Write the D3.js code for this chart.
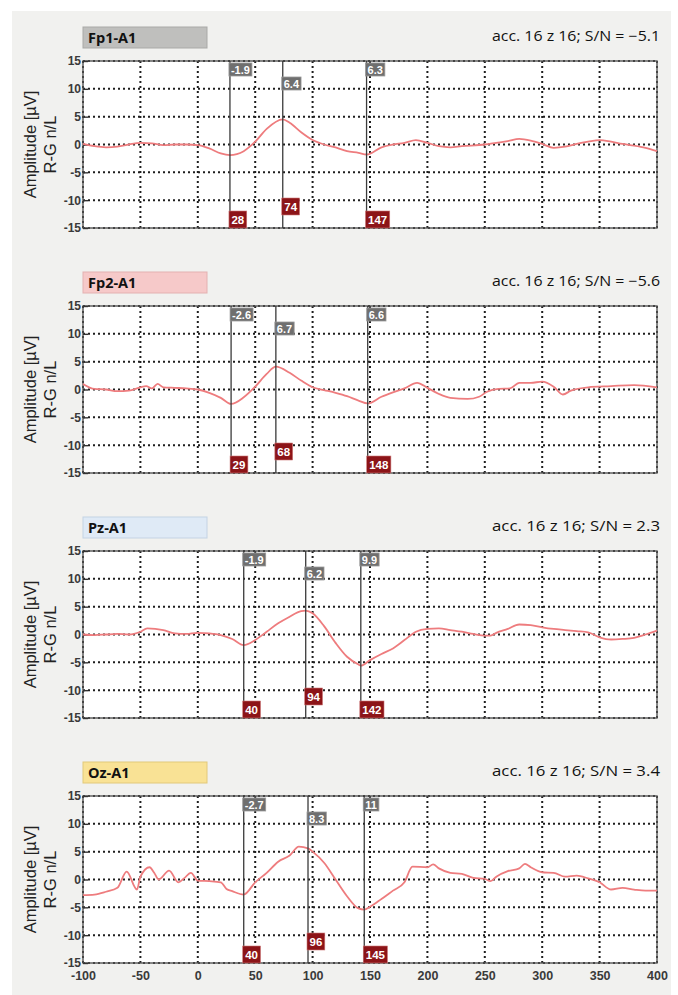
<!DOCTYPE html>
<html><head><meta charset="utf-8">
<script src="https://cdn.jsdelivr.net/npm/d3@7/dist/d3.min.js"></script>
<style>body{margin:0;background:#fff}</style>
</head><body><svg id="c" width="678" height="995"></svg>
<script>
// ---------- data ----------
const channelNames = ["Fp1-A1", "Fp2-A1", "Pz-A1", "Oz-A1"];
const snValues = ["−5.1", "−5.6", "2.3", "3.4"];
const xTicks = [-100, -50, 0, 50, 100, 150, 200, 250, 300, 350, 400];
const yTicks = [15, 10, 5, 0, -5, -10, -15];

const fp1T = [-100,-90,-80,-70,-60,-50,-40,-30,-20,-10,0,10,20,28,40,50,60,74,80,90,100,110,120,130,140,147,160,170,180,190,200,210,220,230,250,260,270,280,290,300,310,320,330,340,350,360,370,380,390,400];
const fp1V = [0.1,-0.3,-0.5,-0.4,0,0.3,0.2,-0.1,0,0,-0.1,-0.7,-1.6,-1.9,-1.2,0.5,2.8,4.5,3.9,2.2,0.8,0,-0.5,-1.2,-1.5,-1.8,-0.5,0,0.3,0.8,0.3,-0.3,-0.5,-0.3,0,0.3,0.6,1.0,0.7,0.1,-0.6,-0.4,0.1,0.5,0.8,0.5,0.1,-0.2,-0.6,-1.2];
const fp1Lat = ["28", "74", "147"];
const fp1Amp = ["-1.9", "6.4", "6.3"];

const fp2T = [-100,-90,-80,-70,-60,-50,-45,-40,-35,-30,-20,-10,0,10,20,29,40,50,60,68,80,90,100,110,120,130,140,148,160,170,180,191,200,210,220,235,245,252,262,272,280,290,300,310,318,325,340,360,380,400];
const fp2V = [1.0,0.1,0,-0.3,-0.2,0.4,0.6,0.2,1.0,0.4,0.3,0.2,0,-0.6,-1.5,-2.6,-1.4,0.5,2.8,4.1,3.0,1.6,0.4,-0.1,-0.6,-1.2,-2.0,-2.5,-1.3,-0.5,0.2,1.2,0.3,-0.8,-1.5,-1.7,-1.3,-0.4,0.1,0.2,1.2,1.2,1.4,0.5,-0.9,-0.2,0.4,0.6,0.8,0.4];
const fp2Lat = ["29", "68", "148"];
const fp2Amp = ["-2.6", "6.7", "6.6"];

const pzT = [-100,-90,-80,-70,-60,-50,-44,-30,-20,-10,0,10,20,30,40,50,60,70,80,90,94,100,110,120,130,140,142,150,160,170,180,190,200,210,220,230,240,250,255,260,270,280,290,300,310,320,330,340,350,360,370,380,390,400];
const pzV = [0,-0.1,0,0.1,0,0.5,1.1,0.8,0.2,0.1,0.3,0.2,-0.1,-0.8,-1.9,-1.0,0.5,2.0,3.2,4.2,4.3,3.8,1.5,-1.5,-4.0,-5.4,-5.6,-4.6,-3.5,-2.5,-1.0,0.5,1.0,1.1,0.8,0.5,0.1,-0.2,-0.2,0.3,1.0,1.8,1.7,1.3,1.0,0.8,0.6,0.4,-0.5,-0.9,-0.8,-0.6,0,0.7];
const pzLat = ["40", "94", "142"];
const pzAmp = ["-1.9", "6.2", "9.9"];

const ozT = [-100,-90,-80,-70,-62,-53,-50,-42,-38,-34,-25,-17,-12,-6,0,10,20,25,30,40,50,60,70,80,88,96,100,110,120,130,140,145,150,160,170,180,187,200,205,210,220,230,240,250,255,260,270,280,285,290,300,310,320,330,340,350,360,370,380,390,400];
const ozV = [-2.8,-2.7,-2.2,-1.5,1.4,-1.8,0.5,2.2,1.2,0,1.6,-0.5,0.2,1.2,-0.2,-0.3,-0.5,-1.7,-2.1,-2.7,-0.5,1.2,3.2,4.3,5.9,5.6,5.0,3.0,0,-3.0,-5.2,-5.4,-4.9,-3.5,-2.0,-0.5,2.3,2.2,2.7,2.0,1.2,1.0,0.3,0.1,-0.3,0.5,1.5,2.0,2.8,2.2,1.3,1.2,0.5,0.7,0.2,-0.5,-1.8,-1.5,-1.8,-2.0,-2.0];
const ozLat = ["40", "96", "145"];
const ozAmp = ["-2.7", "8.3", "11"];

const seriesT = [fp1T, fp2T, pzT, ozT];
const seriesV = [fp1V, fp2V, pzV, ozV];
const latLabels = [fp1Lat, fp2Lat, pzLat, ozLat];
const ampLabels = [fp1Amp, fp2Amp, pzAmp, ozAmp];

// ---------- styles ----------
const headerFill = ["#bfbfbd", "#f6c9c9", "#dfeaf6", "#f9e295"];
const headerStroke = ["#a9a9a7", "#e4b1b1", "#c4d3e4", "#e2c97a"];

const svg = d3.select("#c");
svg.append("rect").attr("x", 12).attr("y", 11).attr("width", 659).attr("height", 984).attr("fill", "#f1f1ef");

const x = d3.scaleLinear().domain([-100, 400]).range([83, 657]);
const H = 167;

channelNames.forEach((name, i) => {
  const top = 61 + i * 245;
  const y = d3.scaleLinear().domain([-15, 15]).range([top + H, top]);
  const g = svg.append("g");

  // header
  g.append("rect").attr("x", 83).attr("y", top - 34).attr("width", 124).attr("height", 21)
    .attr("fill", headerFill[i]).attr("stroke", headerStroke[i]).attr("stroke-width", 1);
  g.append("text").attr("x", 88).attr("y", top - 18).text(name)
    .attr("font-family", "Open Sans").attr("font-weight", "bold").attr("font-size", 14.5).attr("fill", "#111");
  g.append("text").attr("x", 660).attr("y", top - 20).attr("text-anchor", "end")
    .text("acc. 16 z 16; S/N = " + snValues[i])
    .attr("font-family", "Open Sans").attr("font-size", 14).attr("fill", "#111")
    .attr("textLength", 168).attr("lengthAdjust", "spacingAndGlyphs");

  // plot background
  g.append("rect").attr("x", 83).attr("y", top).attr("width", 574).attr("height", H).attr("fill", "#fff");

  // grid
  const gs = "#1e1e1e", gw = 2, gd = "2,3";
  g.append("g").selectAll("line").data(xTicks).join("line")
    .attr("x1", d => x(d)).attr("x2", d => x(d)).attr("y1", top).attr("y2", top + H)
    .attr("stroke", gs).attr("stroke-width", gw).attr("stroke-dasharray", gd);
  g.append("g").selectAll("line").data(yTicks).join("line")
    .attr("x1", 83).attr("x2", 657).attr("y1", d => y(d)).attr("y2", d => y(d))
    .attr("stroke", gs).attr("stroke-width", gw).attr("stroke-dasharray", gd);

  // frame
  g.append("rect").attr("x", 83).attr("y", top).attr("width", 574).attr("height", H)
    .attr("fill", "none").attr("stroke", "#555").attr("stroke-width", 1.4);

  // y axis
  const ya = d3.axisLeft(y).tickValues(yTicks).tickSize(4).tickFormat(d3.format("d"));
  const yg = g.append("g").attr("transform", "translate(83,0)").call(ya);
  yg.select(".domain").remove();
  yg.selectAll("line").attr("stroke", "#333").attr("stroke-width", 1.4).attr("x2", 5);
  yg.selectAll("text").attr("x", -2).attr("font-family", "Liberation Sans").attr("font-weight", "bold")
    .attr("font-size", 12).attr("fill", "#3a3a3a").text(d => d < 0 ? "-" + Math.abs(d) : d);

  // y title
  const cy = top + H / 2;
  g.append("text").attr("transform", `translate(36,${cy}) rotate(-90)`).attr("text-anchor", "middle")
    .text("Amplitude [µV]").attr("font-family", "Liberation Sans").attr("font-size", 16.5).attr("fill", "#222");
  g.append("text").attr("transform", `translate(56,${cy}) rotate(-90)`).attr("text-anchor", "middle")
    .text("R-G n/L").attr("font-family", "Liberation Sans").attr("font-size", 16.5).attr("fill", "#222");

  // trace
  const pts = seriesT[i].map((t, k) => [t, seriesV[i][k]]);
  g.append("path").datum(pts)
    .attr("d", d3.line().x(d => x(d[0])).y(d => y(d[1])).curve(d3.curveMonotoneX))
    .attr("fill", "none").attr("stroke", "#ee7c7e").attr("stroke-width", 1.8);

  // markers
  latLabels[i].forEach((lat, k) => {
    const mx = x(+lat);
    g.append("line").attr("x1", mx).attr("x2", mx).attr("y1", top).attr("y2", top + H)
      .attr("stroke", "#3a3a3a").attr("stroke-width", 1.3);
    // top amplitude label
    const ty = k === 1 ? top + 16 : top + 2;
    const tt = g.append("text").text(ampLabels[i][k]).attr("font-family", "Liberation Sans Narrow, Liberation Sans")
      .attr("font-weight", "bold").attr("font-size", 11).attr("fill", "#fff");
    const tw = tt.node().getComputedTextLength();
    g.insert("rect", () => tt.node()).attr("x", mx - 1).attr("y", ty).attr("width", tw + 4).attr("height", 13)
      .attr("fill", "#6f6f6f").attr("stroke", "#9a9a9a").attr("stroke-width", 0.8);
    tt.attr("x", mx + 1).attr("y", ty + 10.5);
    // bottom latency label
    const by = k === 1 ? top + H - 30 : top + H - 17;
    const bt = g.append("text").text(lat).attr("font-family", "Liberation Sans Narrow, Liberation Sans")
      .attr("font-weight", "bold").attr("font-size", 11.5).attr("fill", "#fff");
    const bw = bt.node().getComputedTextLength();
    g.insert("rect", () => bt.node()).attr("x", mx - 1).attr("y", by).attr("width", bw + 5).attr("height", 17)
      .attr("fill", "#8c1418").attr("stroke", "#c77").attr("stroke-width", 0.6);
    bt.attr("x", mx + 1.5).attr("y", by + 12.5);
  });

  // x axis on the last panel
  if (i === channelNames.length - 1) {
    const xa = d3.axisBottom(x).tickValues(xTicks).tickSize(0).tickFormat(d => d < 0 ? "-" + Math.abs(d) : d);
    const xg = g.append("g").attr("transform", `translate(0,${top + H})`).call(xa);
    xg.select(".domain").remove();
    xg.selectAll("text").attr("y", 8).attr("font-family", "Liberation Sans").attr("font-weight", "bold")
      .attr("font-size", 12.5).attr("fill", "#3a3a3a");
  }
});
</script></body></html>
